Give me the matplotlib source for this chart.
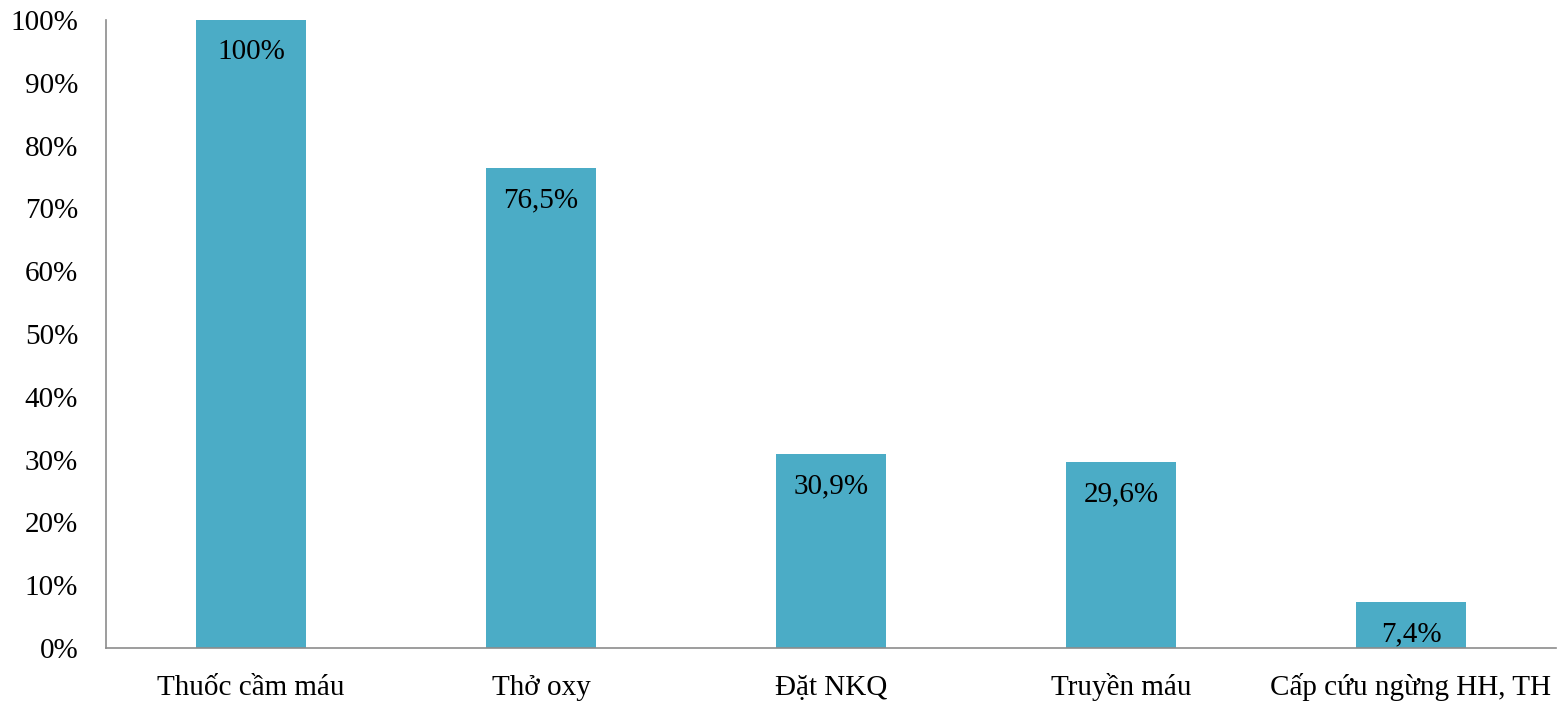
import numpy as np
import matplotlib.pyplot as plt
from matplotlib.ticker import PercentFormatter

categories = ['Thuốc cầm máu', 'Thở oxy', 'Đặt NKQ', 'Truyền máu', 'Cấp cứu ngừng HH, TH']
values = [100, 76.5, 30.9, 29.6, 7.4]
labels = ['100%', '76,5%', '30,9%', '29,6%', '7,4%']

plt.rcParams['font.family'] = ['Liberation Serif', 'DejaVu Serif']

fig = plt.figure(figsize=(15.66, 7.01), dpi=100)
ax = fig.add_axes([0.0677, 0.0756, 0.9259, 0.8959])

x = np.arange(len(categories))
bars = ax.bar(x, values, width=0.38, color='#4BACC6')

# value labels sit just inside the top of each bar
for b, lab in zip(bars, labels):
    ax.annotate(lab, (b.get_x() + b.get_width() / 2, b.get_height()),
                xytext=(0, -14), textcoords='offset points',
                ha='center', va='top', fontsize=21)

ax.set_xlim(-0.5, len(categories) - 0.5)
ax.set_ylim(0, 100)
ax.set_yticks(np.arange(0, 101, 10))
ax.yaxis.set_major_formatter(PercentFormatter(decimals=0))
ax.set_xticks(x)
ax.set_xticklabels(categories, va='baseline')
ax.tick_params(axis='both', length=0, labelsize=21)
ax.tick_params(axis='y', pad=20)
ax.tick_params(axis='x', pad=34)

for s in ['top', 'right']:
    ax.spines[s].set_visible(False)
for s in ['left', 'bottom']:
    ax.spines[s].set_color('#8c8c8c')
    ax.spines[s].set_linewidth(1.2)

fig.savefig('out.png', dpi=100)
